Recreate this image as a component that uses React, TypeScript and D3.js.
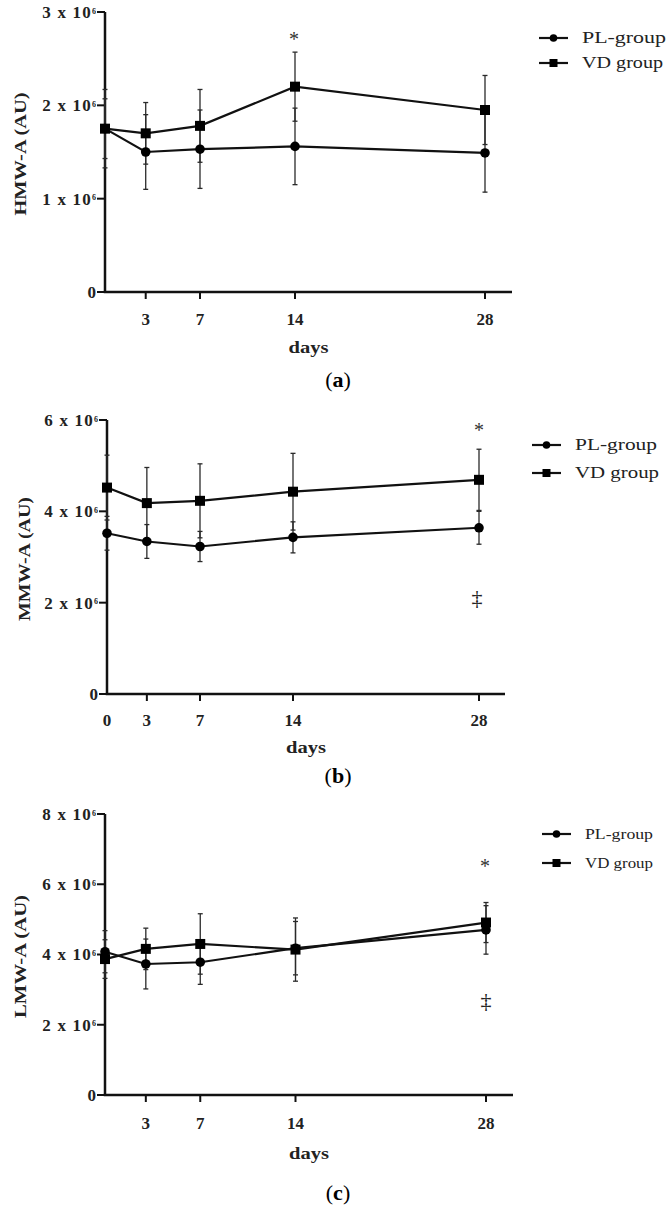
import React from "react";
import * as d3 from "d3";

// ---- data (values in units of 10^6 AU) ----
const days = [0, 3, 7, 14, 28];
const xTickDaysA = [3, 7, 14, 28];
const xTickDaysB = [0, 3, 7, 14, 28];
const xTickDaysC = [3, 7, 14, 28];

const hmwPL = [1.75, 1.5, 1.53, 1.56, 1.49];
const hmwPLerr = [0.42, 0.4, 0.42, 0.41, 0.42];
const hmwVD = [1.75, 1.7, 1.78, 2.2, 1.95];
const hmwVDerr = [0.32, 0.33, 0.39, 0.37, 0.37];

const mmwPL = [3.52, 3.34, 3.23, 3.43, 3.64];
const mmwPLerr = [0.37, 0.37, 0.33, 0.34, 0.36];
const mmwVD = [4.52, 4.18, 4.23, 4.43, 4.69];
const mmwVDerr = [0.71, 0.78, 0.81, 0.84, 0.67];

const lmwPL = [4.08, 3.73, 3.78, 4.18, 4.7];
const lmwPLerr = [0.6, 0.71, 0.63, 0.76, 0.69];
const lmwVD = [3.87, 4.16, 4.3, 4.14, 4.91];
const lmwVDerr = [0.55, 0.59, 0.86, 0.9, 0.57];

const yTicksA = [0, 1, 2, 3];
const yTicksB = [0, 2, 4, 6];
const yTicksC = [0, 2, 4, 6, 8];

const seriesNames = ["PL-group", "VD group"];
const yTitles = ["HMW-A (AU)", "MMW-A (AU)", "LMW-A (AU)"];
const panelLetters = ["a", "b", "c"];

const SERIF = "'Liberation Serif', 'DejaVu Serif', serif";

type Panel = {
  pl: number[]; plErr: number[]; vd: number[]; vdErr: number[];
  yTicks: number[]; xTicks: number[];
  x0: number; x28: number; xEnd: number; yBottom: number; yTop: number;
  yTitle: string; yTitleX: number; yTitleLen: number;
  tickLabelY: number; daysY: number; letter: string; letterY: number;
  legX: number; legY1: number; legY2: number; legFont: number; legLen: [number, number];
  star?: [number, number]; dagger?: [number, number];
};

const panels: Panel[] = [
  {
    pl: hmwPL, plErr: hmwPLerr, vd: hmwVD, vdErr: hmwVDerr,
    yTicks: yTicksA, xTicks: xTickDaysA,
    x0: 105, x28: 485, xEnd: 512, yBottom: 292, yTop: 12,
    yTitle: yTitles[0], yTitleX: 20, yTitleLen: 123,
    tickLabelY: 325, daysY: 353, letter: panelLetters[0], letterY: 387,
    legX: 539, legY1: 38, legY2: 63, legFont: 17, legLen: [84, 81],
    star: [294, 35],
  },
  {
    pl: mmwPL, plErr: mmwPLerr, vd: mmwVD, vdErr: mmwVDerr,
    yTicks: yTicksB, xTicks: xTickDaysB,
    x0: 107, x28: 479, xEnd: 505, yBottom: 694, yTop: 420,
    yTitle: yTitles[1], yTitleX: 24, yTitleLen: 124,
    tickLabelY: 726, daysY: 753, letter: panelLetters[1], letterY: 783,
    legX: 532, legY1: 445, legY2: 473, legFont: 17, legLen: [82, 84],
    star: [479, 426], dagger: [477, 597],
  },
  {
    pl: lmwPL, plErr: lmwPLerr, vd: lmwVD, vdErr: lmwVDerr,
    yTicks: yTicksC, xTicks: xTickDaysC,
    x0: 105, x28: 486, xEnd: 513, yBottom: 1095, yTop: 814,
    yTitle: yTitles[2], yTitleX: 20, yTitleLen: 123,
    tickLabelY: 1129, daysY: 1159, letter: panelLetters[2], letterY: 1200,
    legX: 542, legY1: 834, legY2: 863, legFont: 15, legLen: [68, 68],
    star: [485, 862], dagger: [486, 1000],
  },
];

function PanelView({ p }: { p: Panel }) {
  const yMax = p.yTicks[p.yTicks.length - 1];
  const x = d3.scaleLinear().domain([0, 28]).range([p.x0, p.x28]);
  const y = d3.scaleLinear().domain([0, yMax]).range([p.yBottom, p.yTop]);
  const line = d3
    .line<number>()
    .x((_, i) => x(days[i]))
    .y((v) => y(v));
  const sq = d3.symbol(d3.symbolSquare, 100)();
  const errBars = (vals: number[], errs: number[], key: string) =>
    vals.map((v, i) => {
      const cx = x(days[i]);
      const hi = y(v + errs[i]);
      const lo = y(v - errs[i]);
      return (
        <g key={key + i} stroke="#2a2a2a" strokeWidth={1.3}>
          <line x1={cx} x2={cx} y1={hi} y2={lo} />
          <line x1={cx - 2.5} x2={cx + 2.5} y1={hi} y2={hi} />
          <line x1={cx - 2.5} x2={cx + 2.5} y1={lo} y2={lo} />
        </g>
      );
    });
  const midX = (p.x0 + p.xEnd) / 2;
  return (
    <g>
      {/* axes */}
      <line x1={p.x0} x2={p.x0} y1={p.yTop} y2={p.yBottom} stroke="#111" strokeWidth={2.5} />
      <line x1={p.x0 - 1.25} x2={p.xEnd} y1={p.yBottom} y2={p.yBottom} stroke="#111" strokeWidth={2.5} />
      {p.yTicks.map((t) => (
        <g key={"yt" + t}>
          <line x1={p.x0 - 8} x2={p.x0} y1={y(t)} y2={y(t)} stroke="#111" strokeWidth={2} />
          <text
            x={p.x0 - 9}
            y={y(t)}
            dy="0.35em"
            textAnchor="end"
            fontFamily={SERIF}
            fontWeight="bold"
            fontSize={17}
            fill="#222"
          >
            {t === 0 ? (
              "0"
            ) : (
              <>
                <tspan letterSpacing={1.2}>{`${t} x 10`}</tspan>
                <tspan fontSize={8} dy="-0.55em" dx="0">6</tspan>
              </>
            )}
          </text>
        </g>
      ))}
      {p.xTicks.map((d) => (
        <g key={"xt" + d}>
          {d !== 0 && (
            <line x1={x(d)} x2={x(d)} y1={p.yBottom} y2={p.yBottom + 7} stroke="#111" strokeWidth={2} />
          )}
          <text
            x={x(d)}
            y={p.tickLabelY}
            textAnchor="middle"
            fontFamily={SERIF}
            fontWeight="bold"
            fontSize={17}
            fill="#222"
          >
            {d}
          </text>
        </g>
      ))}
      <text x={midX} y={p.daysY} textAnchor="middle" fontFamily={SERIF} fontWeight="bold" fontSize={17} fill="#222" textLength={40} lengthAdjust="spacingAndGlyphs">
        days
      </text>
      <text x={338} y={p.letterY} textAnchor="middle" fontFamily={SERIF} fontSize={22} fill="#000">
        (<tspan fontWeight="bold">{p.letter}</tspan>)
      </text>
      <text
        transform={`translate(${p.yTitleX},${(p.yTop + p.yBottom) / 2 + 2}) rotate(-90)`}
        textAnchor="middle"
        dy="0.35em"
        fontFamily={SERIF}
        fontWeight="bold"
        fontSize={17}
        fill="#222"
        textLength={p.yTitleLen}
        lengthAdjust="spacingAndGlyphs"
      >
        {p.yTitle}
      </text>
      {/* error bars */}
      {errBars(p.pl, p.plErr, "pe")}
      {errBars(p.vd, p.vdErr, "ve")}
      {/* lines */}
      <path d={line(p.pl) || ""} fill="none" stroke="#111" strokeWidth={2.2} />
      <path d={line(p.vd) || ""} fill="none" stroke="#111" strokeWidth={2.2} />
      {p.pl.map((v, i) => (
        <circle key={"pc" + i} cx={x(days[i])} cy={y(v)} r={4.8} fill="#000" />
      ))}
      {p.vd.map((v, i) => (
        <path key={"vs" + i} d={sq || ""} transform={`translate(${x(days[i])},${y(v)})`} fill="#000" />
      ))}
      {/* annotations */}
      {p.star && (
        <text x={p.star[0]} y={p.star[1]} dy="0.55em" textAnchor="middle" fontFamily={SERIF} fontSize={20} fill="#333">
          *
        </text>
      )}
      {p.dagger && (
        <text x={p.dagger[0]} y={p.dagger[1]} dy="0.35em" textAnchor="middle" fontFamily={SERIF} fontSize={22} fill="#222">
          ‡
        </text>
      )}
      {/* legend */}
      {[p.legY1, p.legY2].map((ly, k) => (
        <g key={"lg" + k}>
          <line x1={p.legX} x2={p.legX + 29} y1={ly} y2={ly} stroke="#111" strokeWidth={2.2} />
          {k === 0 ? (
            <circle cx={p.legX + 14.5} cy={ly} r={3.8} fill="#000" />
          ) : (
            <rect x={p.legX + 10.5} y={ly - 4} width={8} height={8} fill="#000" />
          )}
          <text
            x={p.legX + 43}
            y={ly}
            dy="0.32em"
            fontFamily={SERIF}
            fontSize={p.legFont}
            fill="#222"
            textLength={p.legLen[k]}
            lengthAdjust="spacingAndGlyphs"
          >
            {seriesNames[k]}
          </text>
        </g>
      ))}
    </g>
  );
}

export default function App() {
  return (
    <svg
      width={668}
      height={1211}
      viewBox="0 0 668 1211"
      style={{ position: "absolute", left: 0, top: 0, background: "#fff" }}
    >
      <rect width={668} height={1211} fill="#fff" />
      {panels.map((p, i) => (
        <PanelView key={i} p={p} />
      ))}
    </svg>
  );
}
